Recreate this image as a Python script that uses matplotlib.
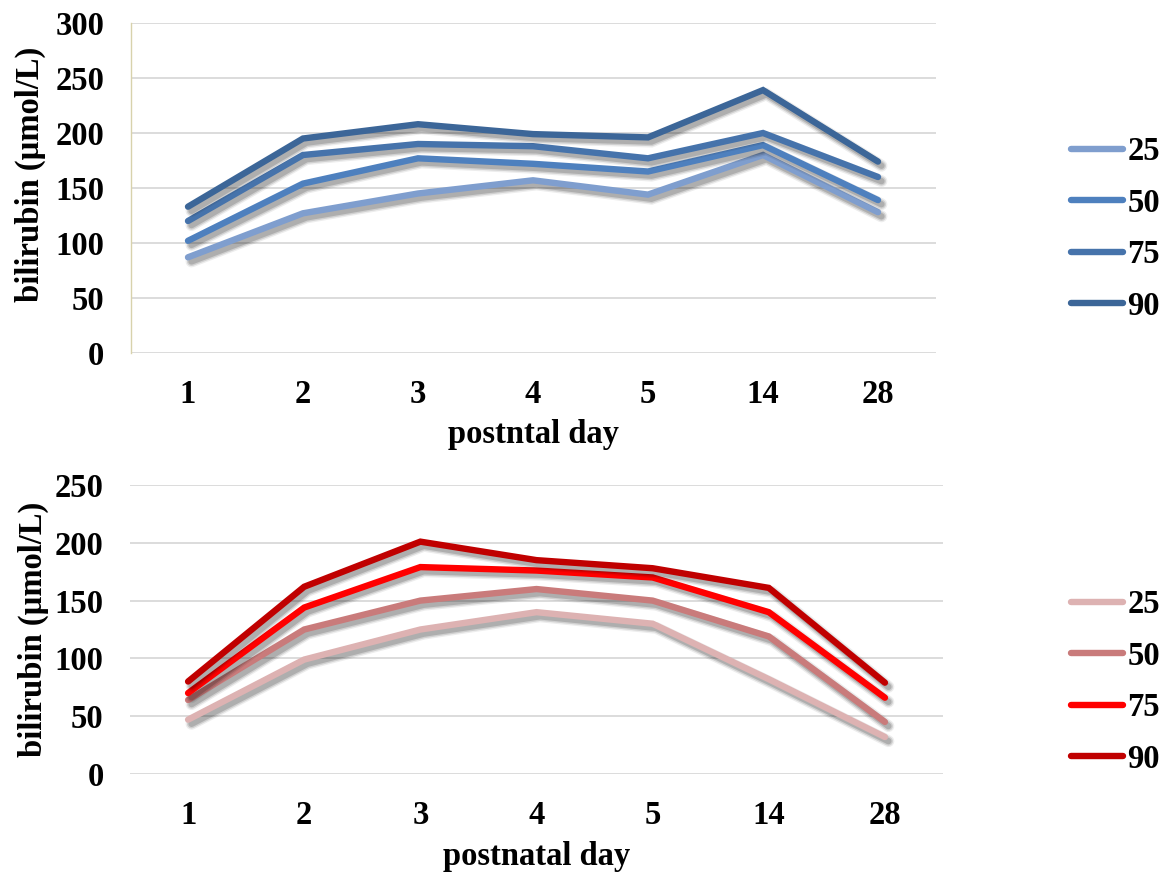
import matplotlib
matplotlib.use("Agg")
import matplotlib.pyplot as plt
import matplotlib.patheffects as pe
from matplotlib.lines import Line2D

plt.rcParams['font.family'] = ['Liberation Serif', 'DejaVu Serif']
plt.rcParams['font.weight'] = 'bold'

days = ["1", "2", "3", "4", "5", "14", "28"]
percentiles = ["25", "50", "75", "90"]

# Top panel: bilirubin percentiles by postnatal day
top_p25 = [87, 127, 145, 157, 144, 180, 128]
top_p50 = [102, 154, 177, 172, 165, 189, 139]
top_p75 = [120, 180, 190, 188, 177, 200, 160]
top_p90 = [133, 195, 208, 199, 196, 239, 174]
top_colors = ["#7F9ECE", "#4E80BE", "#4673AB", "#3C6698"]

# Bottom panel
bot_p25 = [47, 99, 125, 140, 130, 82, 32]
bot_p50 = [64, 125, 150, 160, 150, 119, 45]
bot_p75 = [70, 144, 179, 176, 170, 140, 66]
bot_p90 = [80, 162, 201, 185, 178, 161, 79]
bot_colors = ["#DDB2B2", "#C97B7B", "#FF0000", "#C00000"]

LW = 4.6
FS = 23.5

shadow = [
    pe.SimpleLineShadow(offset=(2.5, -3.0), shadow_color="black", alpha=0.07, linewidth=LW + 4),
    pe.SimpleLineShadow(offset=(2.5, -3.0), shadow_color="black", alpha=0.12, linewidth=LW + 2),
    pe.SimpleLineShadow(offset=(2.5, -3.0), shadow_color="black", alpha=0.16, linewidth=LW),
    pe.Normal(),
]

fig = plt.figure(figsize=(11.68, 8.74), dpi=100)
ax1 = fig.add_axes([130.5 / 1168, (874 - 353) / 874, 805 / 1168, 330 / 874])
ax2 = fig.add_axes([130 / 1168, (874 - 774) / 874, 813 / 1168, 289 / 874])


def draw_panel(ax, series, colors, ymax, xlabel, legend_y, left_spine):
    x = list(range(len(days)))
    for vals, col in zip(series, colors):
        ax.plot(x, vals, color=col, lw=LW, solid_capstyle="round",
                solid_joinstyle="miter", path_effects=shadow, zorder=3)
    ax.set_xlim(-0.5, len(days) - 0.5)
    ax.set_ylim(0, ymax)
    ax.set_yticks(range(0, ymax + 1, 50))
    ax.set_xticks(x)
    ax.set_xticklabels(days)
    ax.yaxis.grid(True, color="#D9D9D9", lw=1.3)
    ax.set_axisbelow(True)
    for s in ("top", "right", "bottom"):
        ax.spines[s].set_visible(False)
    if left_spine:
        ax.spines["left"].set_color("#D8D2AC")
        ax.spines["left"].set_linewidth(1.0)
    else:
        ax.spines["left"].set_visible(False)
    ax.tick_params(axis="both", length=0, labelsize=FS)
    ax.tick_params(axis="y", pad=19)
    ax.tick_params(axis="x", pad=19)
    for lab in ax.get_xticklabels() + ax.get_yticklabels():
        lab.set_fontweight("bold")
    ax.set_ylabel("bilirubin (\u00b5mol/L)", fontsize=FS, fontweight="bold", va="center")
    ax.set_xlabel(xlabel, fontsize=FS, fontweight="bold", va="center")
    handles = [Line2D([], [], color=c, lw=LW, solid_capstyle="round") for c in colors]
    fig.legend(handles, percentiles, loc="center left",
               bbox_to_anchor=(1071 / 1168, legend_y), bbox_transform=fig.transFigure,
               frameon=False, borderpad=0, borderaxespad=0, handlelength=1.6,
               handletextpad=0.12, labelspacing=0.63,
               prop={"family": "Liberation Serif", "weight": "bold", "size": FS})


draw_panel(ax1, [top_p25, top_p50, top_p75, top_p90], top_colors, 300,
           "postntal day", (874 - 229) / 874, True)
draw_panel(ax2, [bot_p25, bot_p50, bot_p75, bot_p90], bot_colors, 250,
           "postnatal day", (874 - 682) / 874, False)

ax1.yaxis.set_label_coords((30 - 130.5) / 805, (353 - 174) / 330)
ax1.xaxis.set_label_coords(0.5, (353 - 434) / 330)
ax2.yaxis.set_label_coords((33 - 130) / 813, 0.5)
ax2.xaxis.set_label_coords(0.5, (774 - 856) / 289)

fig.savefig("out.png", dpi=100)
